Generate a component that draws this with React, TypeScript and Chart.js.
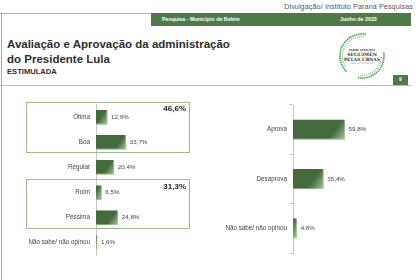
import React, { useEffect, useRef } from 'react';
import { Chart, registerables } from 'chart.js';

Chart.register(...registerables);

const evalCategories = ['Ótima', 'Boa', 'Regular', 'Ruim', 'Péssima', 'Não sabe/ não opinou'];
const evalValues = [12.9, 33.7, 20.4, 6.5, 24.8, 1.6];
const approvalCategories = ['Aprova', 'Desaprova', 'Não sabe/ não opinou'];
const approvalValues = [59.8, 35.4, 4.8];
const groupTotals = ['46,6%', '31,3%'];
const xMax = 100;

const FONT = "'Liberation Sans', Arial, sans-serif";
const GREEN = '#4d7a45';
const BAR = '#44693c';

const fmt = (v: number) => v.toFixed(1).replace('.', ',') + '%';

const barDecor = {
  id: 'barDecor',
  afterDatasetsDraw(chart: any) {
    const ctx = chart.ctx;
    const meta = chart.getDatasetMeta(0);
    const data = chart.data.datasets[0].data as number[];
    meta.data.forEach((el: any, i: number) => {
      const { x, y, base, height } = el.getProps(['x', 'y', 'base', 'height'], true);
      const top = y - height / 2;
      const w = x - base;
      ctx.save();
      const g = ctx.createLinearGradient(x - height * 1.4, top, x, top + height);
      g.addColorStop(0, 'rgba(185,220,170,0)');
      g.addColorStop(0.6, 'rgba(185,220,170,0)');
      g.addColorStop(1, 'rgba(195,228,182,0.8)');
      ctx.fillStyle = g;
      ctx.fillRect(base, top, w, height);
      ctx.font = `6.2px ${FONT}`;
      ctx.fillStyle = '#444';
      ctx.textBaseline = 'middle';
      ctx.textAlign = 'left';
      ctx.fillText(fmt(data[i]), x + 3.5, y);
      ctx.restore();
    });
  },
};

function makeChart(
  canvas: HTMLCanvasElement,
  labels: string[],
  values: number[],
  opts: { axisWidth: number; padding: any; barPct: number; ticks: boolean; tickPad: number }
) {
  return new Chart(canvas, {
    type: 'bar',
    data: {
      labels,
      datasets: [
        {
          data: values,
          backgroundColor: BAR,
          borderColor: '#7aa56c',
          borderWidth: { top: 0, left: 0, right: 1, bottom: 1 } as any,
          barPercentage: opts.barPct,
          categoryPercentage: 1,
        },
      ],
    },
    options: {
      indexAxis: 'y',
      animation: false,
      responsive: false,
      maintainAspectRatio: false,
      layout: { padding: opts.padding },
      plugins: { legend: { display: false }, tooltip: { enabled: false } },
      scales: {
        x: { display: false, min: 0, max: xMax },
        y: {
          afterFit: (s: any) => {
            s.width = opts.axisWidth;
          },
          grid: opts.ticks
            ? { display: true, drawOnChartArea: false, drawTicks: true, tickLength: 4, offset: true, color: '#c8c8c8' }
            : { display: false, drawTicks: false },
          border: { display: true, color: '#c8c8c8', width: 1 },
          ticks: { padding: opts.tickPad, color: '#444', font: { family: FONT, size: 6.3 } },
        },
      },
    },
    plugins: [barDecor],
  } as any);
}

function Logo() {
  const cx = 27;
  const cy = 27;
  const arc = (r: number, a0: number, a1: number) => {
    const p = (a: number) => [cx + r * Math.cos((a * Math.PI) / 180), cy + r * Math.sin((a * Math.PI) / 180)];
    const [x0, y0] = p(a0);
    const [x1, y1] = p(a1);
    const large = Math.abs(a1 - a0) > 180 ? 1 : 0;
    return `M ${x0} ${y0} A ${r} ${r} 0 ${large} 0 ${x1} ${y1}`;
  };
  return (
    <svg width={54} height={54} style={{ position: 'absolute', left: 335, top: 29 }}>
      <path d={arc(22, -80, -225)} fill="none" stroke="#3f9446" strokeWidth={1.8} strokeDasharray="1.2 0.9" />
      <path d={arc(19.5, -85, -215)} fill="none" stroke="#7fc081" strokeWidth={1.3} strokeDasharray="1 1" />
      <path d={arc(22, 100, -10)} fill="none" stroke="#3f9446" strokeWidth={1.8} strokeDasharray="1.2 0.9" />
      <path d={arc(19.5, 95, 0)} fill="none" stroke="#7fc081" strokeWidth={1.3} strokeDasharray="1 1" />
      <text x={cx} y={22} textAnchor="middle" fontSize={2.6} fontFamily="'DejaVu Serif', serif" fontWeight="bold" fill="#333">
        TERRÉ ELEIÇÕES
      </text>
      <text x={cx} y={27} textAnchor="middle" fontSize={4.6} fontFamily="'DejaVu Serif', serif" fontWeight="bold" fill="#333">
        SEGUIMEN
      </text>
      <text x={cx} y={31.5} textAnchor="middle" fontSize={4.4} fontFamily="'DejaVu Serif', serif" fontWeight="bold" fill="#333">
        PELAS URNAS
      </text>
      <text x={cx} y={34.5} textAnchor="middle" fontSize={2.2} fontFamily="'DejaVu Serif', serif" fill="#555">
        INSTITUTO PARANÁ
      </text>
    </svg>
  );
}

export default function App() {
  const leftRef = useRef<HTMLCanvasElement>(null);
  const rightRef = useRef<HTMLCanvasElement>(null);

  useEffect(() => {
    const a = makeChart(leftRef.current!, evalCategories, evalValues, {
      axisWidth: 96,
      padding: { top: 7, bottom: 9, left: 0, right: 14 },
      barPct: 0.59,
      ticks: false,
      tickPad: 6,
    });
    const b = makeChart(rightRef.current!, approvalCategories, approvalValues, {
      axisWidth: 83,
      padding: { top: 10, bottom: 12, left: 0, right: 40 },
      barPct: 0.41,
      ticks: true,
      tickPad: 2,
    });
    return () => {
      a.destroy();
      b.destroy();
    };
  }, []);

  const abs = (s: React.CSSProperties): React.CSSProperties => ({ position: 'absolute', ...s });

  return (
    <div
      style={{
        position: 'absolute',
        left: 0,
        top: 0,
        width: 420,
        height: 280,
        overflow: 'hidden',
        background: '#fff',
        fontFamily: FONT,
      }}
    >
      {/* header */}
      <div style={abs({ right: 7, top: 2, fontSize: 7.2, color: '#555', whiteSpace: 'nowrap', lineHeight: '10px', letterSpacing: 0.1 })}>
        Divulgação/ Instituto Paraná Pesquisas
      </div>
      <div style={abs({ left: 0, top: 13, width: 151, height: 1, background: '#b5b5b5' })} />
      <div style={abs({ left: 1, top: 13, width: 1, height: 267, background: '#a8a8a8' })} />
      <div style={abs({ left: 151, top: 13, width: 260, height: 13, background: GREEN })}>
        <div style={abs({ left: 11, top: 0, lineHeight: '13px', fontSize: 5.3, fontWeight: 'bold', color: '#fff', whiteSpace: 'nowrap' })}>
          Pesquisa - Município de Belém
        </div>
        <div style={abs({ left: 189, top: 0, lineHeight: '13px', fontSize: 5.3, fontWeight: 'bold', color: '#fff', whiteSpace: 'nowrap' })}>
          Junho de 2023
        </div>
      </div>
      <div style={abs({ left: 7, top: 37.5, fontSize: 11.5, lineHeight: '13px', fontWeight: 'bold', color: '#2e2e2e', whiteSpace: 'nowrap' })}>
        Avaliação e Aprovação da administração
      </div>
      <div style={abs({ left: 7, top: 52.5, fontSize: 11.5, lineHeight: '13px', fontWeight: 'bold', color: '#2e2e2e', whiteSpace: 'nowrap' })}>
        do Presidente Lula
      </div>
      <div style={abs({ left: 7, top: 66.5, fontSize: 7.6, lineHeight: '9px', fontWeight: 'bold', color: '#2e2e2e', whiteSpace: 'nowrap' })}>
        ESTIMULADA
      </div>
      <Logo />
      <div style={abs({ left: 393, top: 75, width: 15, height: 9.5, background: GREEN, color: '#fff', fontSize: 5, lineHeight: '9.5px', textAlign: 'center', fontWeight: 'bold' })}>
        9
      </div>
      <div style={abs({ left: 0, top: 84.5, width: 411, height: 1.5, background: '#a9c79b' })} />

      {/* charts */}
      <canvas ref={leftRef} width={200} height={170} style={abs({ left: 0, top: 95, width: 200, height: 170 })} />
      <canvas ref={rightRef} width={210} height={170} style={abs({ left: 210, top: 95, width: 210, height: 170 })} />

      {/* group boxes */}
      <div style={abs({ left: 26, top: 102, width: 164, height: 51, border: '1px solid #9dbd8f', boxSizing: 'border-box', pointerEvents: 'none' })} />
      <div style={abs({ left: 26, top: 179, width: 164, height: 50, border: '1px solid #9dbd8f', boxSizing: 'border-box', pointerEvents: 'none' })} />
      <div style={abs({ left: 140, top: 104, width: 46, textAlign: 'right', fontSize: 8, lineHeight: '10px', fontWeight: 'bold', color: '#222' })}>
        {groupTotals[0]}
      </div>
      <div style={abs({ left: 140, top: 181.5, width: 46, textAlign: 'right', fontSize: 8, lineHeight: '10px', fontWeight: 'bold', color: '#222' })}>
        {groupTotals[1]}
      </div>
    </div>
  );
}
